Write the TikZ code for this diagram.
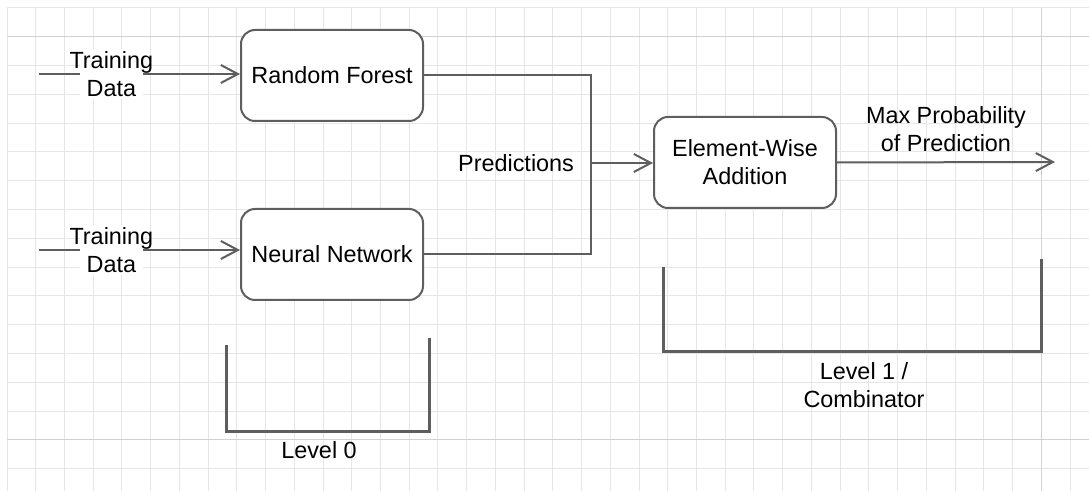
\documentclass[tikz,border=0pt]{standalone}
\usepackage{fontspec}
\setmainfont{Liberation Sans}
\usetikzlibrary{arrows.meta, positioning}
\definecolor{linegray}{HTML}{5E5E5E}
\definecolor{gridgray}{HTML}{E6E6E6}
\definecolor{pagegray}{HTML}{D2D2D2}
\tikzset{
  box/.style={
    rectangle, rounded corners=7pt, minimum width=91pt, minimum height=45.5pt,
    text centered, align=center, draw=linegray, line width=1pt, fill=white
  },
  arrow/.style={
    -{Straight Barb[length=8.5pt,width=9pt]}, line width=1pt, color=linegray
  },
  link/.style={
    line width=1pt, color=linegray
  },
  level/.style={
    line width=1.5pt, color=linegray
  },
  gridline/.style={
    line width=0.5pt, color=gridgray
  }
}

\begin{document}
\begin{tikzpicture}[x=0.5pt, y=-0.5pt, every node/.style={font=\fontsize{11.7}{14}\selectfont, text=black}]

    % Fond
    \fill[white, use as bounding box] (0,0) rectangle (1089,491);
    \foreach \i in {0,...,37} \draw[gridline] ({7+28.73*\i},8) -- ({7+28.73*\i},491);
    \foreach \j in {0,...,16} \draw[gridline] (7,{8+28.8*\j}) -- (1089,{8+28.8*\j});
    \draw[gridline, color=pagegray] (7,37) -- (1089,37);
    \draw[gridline, color=pagegray] (7,440) -- (1089,440);
    \draw[gridline, color=pagegray] (1041,8) -- (1041,491);

    % Modèles
    \node[box] (forest) at (332,75.5) {Random Forest};
    \node[box] (network) at (332,254.5) {Neural Network};
    \node[box] (addition) at (745,162.5) {Element-Wise\\Addition};

    % Entrées
    \coordinate (in1) at (39,74);
    \coordinate (in2) at (39,250);
    \draw[arrow] (in1) -- (in1 -| forest.west)
        node[pos=0.36, align=center, fill=white, inner xsep=-5pt, inner ysep=1pt] (data1) {Training\\Data};
    \draw[arrow] (in2) -- (in2 -| network.west)
        node[pos=0.36, align=center, fill=white, inner xsep=-5pt, inner ysep=1pt] (data2) {Training\\Data};

    % Prédictions
    \coordinate (merge) at (591,163);
    \draw[link] (forest.east) -| (merge) |- (network.east);
    \draw[arrow] (merge) -- (merge -| addition.west);
    \node[left=5pt of merge] (pred) {Predictions};

    % Sortie
    \coordinate (out) at (1055,162);
    \draw[arrow] (addition.east) -- (out)
        node[midway, above, align=center, yshift=1.5pt] (maxprob) {Max Probability\\of Prediction};

    % Niveaux
    \draw[level] (226,345) |- (429,432) -- (429,338);
    \node[anchor=north] (lvl0) at (319,434) {Level 0};
    \draw[level] (663,267) |- (1041,352) -- (1041,259);
    \node[anchor=north, align=center] (lvl1) at (864,355) {Level 1 /\\Combinator};

\end{tikzpicture}
\end{document}
